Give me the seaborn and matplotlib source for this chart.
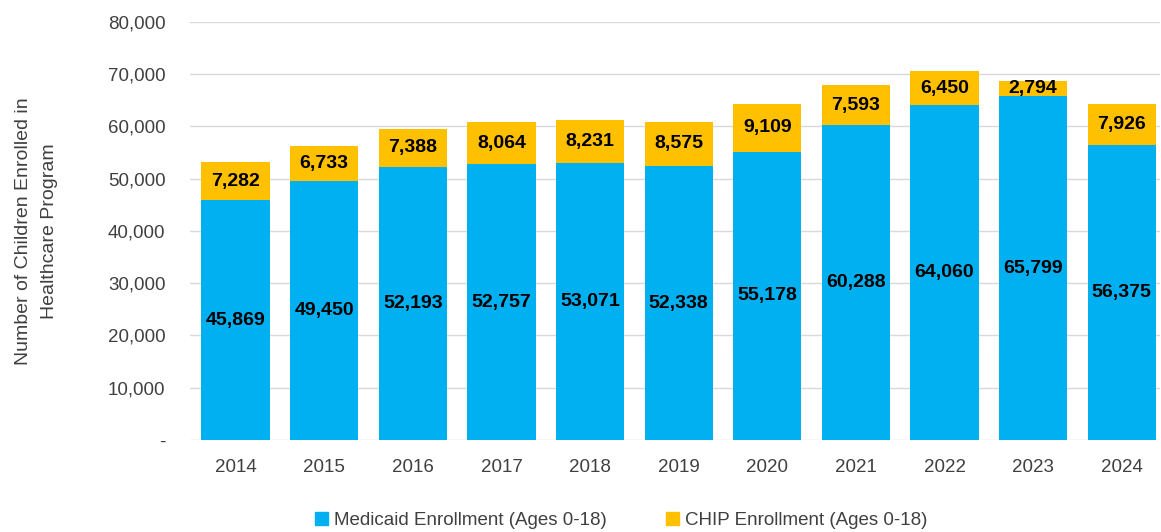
import numpy as np
import pandas as pd
import matplotlib
matplotlib.use('Agg')
import matplotlib.pyplot as plt
import seaborn as sns
from matplotlib.patches import Patch
from matplotlib.ticker import FuncFormatter

years = ['2014', '2015', '2016', '2017', '2018', '2019', '2020', '2021', '2022', '2023', '2024']
medicaid = [45869, 49450, 52193, 52757, 53071, 52338, 55178, 60288, 64060, 65799, 56375]
chip = [7282, 6733, 7388, 8064, 8231, 8575, 9109, 7593, 6450, 2794, 7926]

MEDICAID_COLOR = '#00B0F0'
CHIP_COLOR = '#FFC000'
TEXT_COLOR = '#404040'

df = pd.DataFrame({'year': years, 'medicaid': medicaid, 'chip': chip})
df['total'] = df['medicaid'] + df['chip']

sns.set_style('white')
plt.rcParams['font.family'] = ['Liberation Sans', 'DejaVu Sans']

fig = plt.figure(figsize=(11.61, 5.32), dpi=100)
ax = fig.add_axes([0.164, 0.173, 0.835, 0.786])

# total bars in CHIP colour, medicaid drawn over them
sns.barplot(data=df, x='year', y='total', color=CHIP_COLOR, width=0.77,
            saturation=1, linewidth=0, ax=ax, zorder=2)
sns.barplot(data=df, x='year', y='medicaid', color=MEDICAID_COLOR, width=0.77,
            saturation=1, linewidth=0, ax=ax, zorder=3)

for i, row in df.iterrows():
    ax.text(i, row['medicaid'] / 2, f"{row['medicaid']:,}", ha='center', va='center',
            fontsize=14, fontweight='bold', color='black', zorder=4)
    ax.text(i, row['medicaid'] + row['chip'] / 2, f"{row['chip']:,}", ha='center',
            va='center', fontsize=14, fontweight='bold', color='black', zorder=4)

ax.set_ylim(0, 80000)
ax.set_xlim(-0.51, 10.43)
ax.set_yticks(np.arange(0, 80001, 10000))
ax.yaxis.set_major_formatter(FuncFormatter(lambda v, p: '-' if v == 0 else f'{int(v):,}'))
ax.grid(axis='y', color='#D9D9D9', linewidth=1, zorder=0)
ax.set_axisbelow(True)
for s in ax.spines.values():
    s.set_visible(False)
ax.tick_params(axis='both', length=0, labelsize=13.5, colors=TEXT_COLOR)
ax.tick_params(axis='x', pad=14)
ax.tick_params(axis='y', pad=18)
ax.set_xlabel('')
ax.set_ylabel('Number of Children Enrolled in\nHealthcare Program', fontsize=14,
              color=TEXT_COLOR, labelpad=36, linespacing=1.65, multialignment='center')

handles = [Patch(color=MEDICAID_COLOR, label='Medicaid Enrollment (Ages 0-18)'),
           Patch(color=CHIP_COLOR, label='CHIP Enrollment (Ages 0-18)')]
fig.legend(handles=handles, loc='center', bbox_to_anchor=(0.535, 0.022), ncol=2,
           frameon=False, fontsize=13.5, handlelength=0.7, handleheight=0.7,
           handletextpad=0.3, columnspacing=3.2, labelcolor=TEXT_COLOR)

fig.savefig('out.png', dpi=100)
